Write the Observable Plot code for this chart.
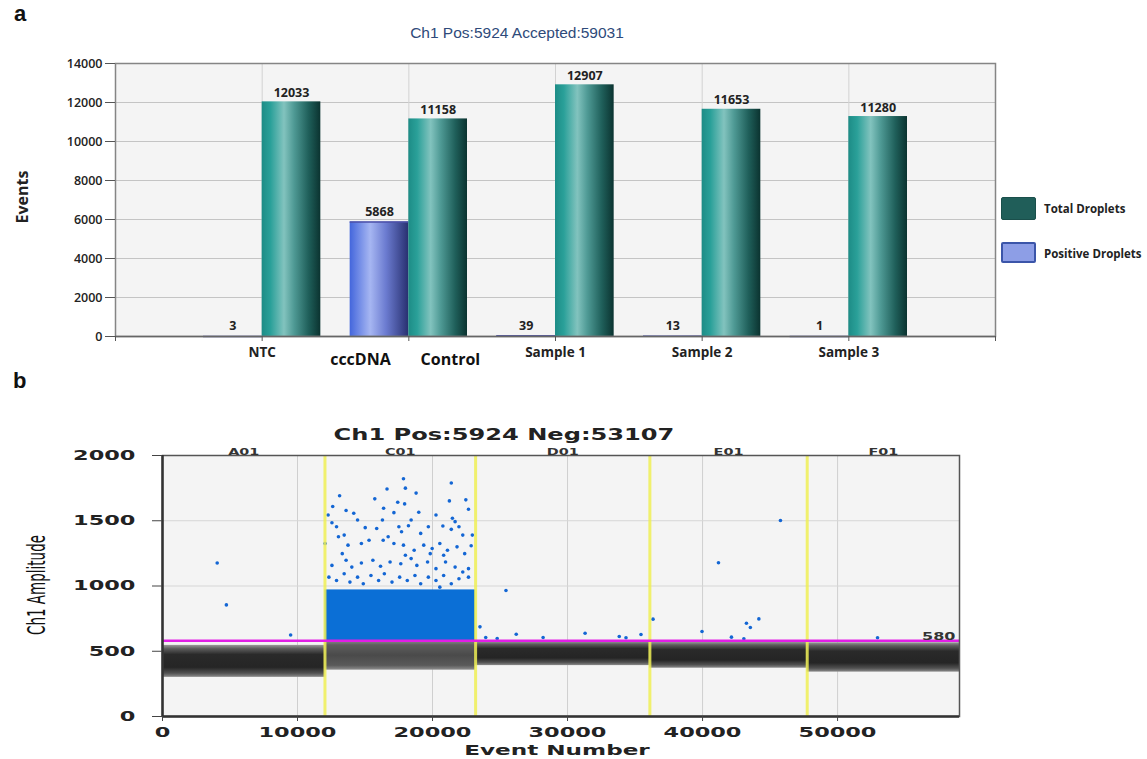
<!DOCTYPE html>
<html><head><meta charset="utf-8">
<script src="https://cdn.jsdelivr.net/npm/d3@7"></script>
<script src="https://cdn.jsdelivr.net/npm/@observablehq/plot@0.6"></script>
<style>
body{margin:0;background:#fff;}
#wrap{position:relative;width:1147px;height:759px;overflow:hidden;font-family:"Open Sans",sans-serif;}
.abs{position:absolute;white-space:nowrap;}
#pa g[aria-label="x-axis tick label"] text{font-weight:bold;font-size:13.5px;}
#pa g[aria-label="y-axis tick label"] text{font-weight:600;}
</style></head><body>
<div id="wrap">
  <div id="pa" class="abs" style="left:0;top:0"></div>
  <div id="pb" class="abs" style="left:0;top:380px"></div>
</div>
<script>
// ---------- Panel a data ----------
const categories = ["NTC", "Control", "Sample 1", "Sample 2", "Sample 3"];
const totalDroplets = [12033, 11158, 12907, 11653, 11280];
const positiveDroplets = [3, 5868, 39, 13, 1];
const xTickLabelsA = ["", "NTC", "", "Sample 1", "Sample 2", "Sample 3", ""];
const controlSubLabels = ["cccDNA", "Control"];
const yTicksA = [0, 2000, 4000, 6000, 8000, 10000, 12000, 14000];
const legendLabels = ["Total Droplets", "Positive Droplets"];

// ---------- Panel b data ----------
const wells = ["A01", "C01", "D01", "E01", "F01"];
const threshold = 580;
const bandOuterLow  = [300, 355, 390, 370, 340];
const bandOuterHigh = [545, 578, 572, 568, 565];
const clusterTop = [0, 970, 0, 0, 0];
const xTicksB = [0, 10000, 20000, 30000, 40000, 50000];
const yTicksB = [0, 500, 1000, 1500, 2000];
// positive droplets (event number, amplitude)
const posEvent = [17848,17990,16630,21390,18783,13117,15723,17423,22466,21248,16375,17933,12607,12267,13598,14165,17140,18981,20256,22664,21474,21672,18415,16290,12550,12890,14448,15015,13457,15865,17508,18216,19123,19690,20766,21390,21957,22240,22948,17706,16715,12040,13032,13740,14732,15298,16346,17140,17848,18641,19350,19973,20540,21106,21814,22863,22381,19831,13315,12550,13598,14023,14732,15582,16148,16856,17650,18415,18840,19633,20256,20964,21672,22664,20823,17990,12324,12890,13457,13882,14448,14873,15440,16006,16431,16998,17565,18131,18698,19123,19690,20256,20823,21390,21957,22664,22240,20540,
  4051,4731,9490,25440,23514,23940,24790,26200,28190,31300,33830,34330,35440,36330,39960,41180,42140,43060,43250,43540,44170,45770,52960];
const posAmp = [1822,1750,1743,1789,1712,1691,1668,1642,1660,1652,1596,1629,1609,1544,1578,1557,1562,1565,1544,1588,1519,1493,1506,1506,1485,1454,1506,1447,1390,1441,1454,1462,1403,1454,1460,1434,1454,1390,1390,1416,1377,1326,1377,1313,1326,1351,1351,1326,1313,1274,1313,1287,1326,1274,1300,1308,1248,1248,1248,1158,1197,1145,1176,1197,1151,1184,1171,1210,1158,1184,1133,1184,1145,1133,1236,1236,1068,1042,1094,1030,1068,1017,1081,1042,1094,1030,1068,1042,1081,1017,1068,1042,1081,1017,1055,1068,1107,991,
  1176,855,625,965,687,605,597,630,605,638,613,603,628,746,651,1178,608,595,715,682,748,1502,603];

// ---------- derived ----------
const totalPos = d3.sum(positiveDroplets);
const accepted = d3.sum(totalDroplets);
const rowsA = categories.map((c, i) => ({i: i + 1, cat: c, total: totalDroplets[i], pos: positiveDroplets[i]}));
const ends = d3.cumsum(totalDroplets);
const wellRows = wells.map((w, i) => ({
  well: w, start: i ? ends[i - 1] : 0, end: ends[i],
  oLo: bandOuterLow[i], oHi: bandOuterHigh[i], top: clusterTop[i]
}));
const boundaries = Array.from(ends).slice(0, -1);
const dots = posEvent.map((x, i) => ({x, y: posAmp[i]}));

const SVGNS = "http://www.w3.org/2000/svg";
function defsMark() {
  const d = document.createElementNS(SVGNS, "defs");
  d.innerHTML = `
  <linearGradient id="gTot" x1="0" x2="1" y1="0" y2="0">
    <stop offset="0" stop-color="#1d8c86"/>
    <stop offset="0.15" stop-color="#2aa099"/>
    <stop offset="0.38" stop-color="#82c3be"/>
    <stop offset="0.55" stop-color="#4f9a95"/>
    <stop offset="0.8" stop-color="#1f5f5a"/>
    <stop offset="1" stop-color="#0b3330"/>
  </linearGradient>
  <linearGradient id="gPos" x1="0" x2="1" y1="0" y2="0">
    <stop offset="0" stop-color="#4366dc"/>
    <stop offset="0.35" stop-color="#a6b6f2"/>
    <stop offset="0.62" stop-color="#6b7bd0"/>
    <stop offset="1" stop-color="#283070"/>
  </linearGradient>`;
  return d;
}
function defsMarkB() {
  const d = document.createElementNS(SVGNS, "defs");
  d.innerHTML = `
  <linearGradient id="gBand" x1="0" x2="0" y1="0" y2="1">
    <stop offset="0" stop-color="#9a9a9a"/>
    <stop offset="0.12" stop-color="#5c5c5c"/>
    <stop offset="0.3" stop-color="#2a2a2a"/>
    <stop offset="0.7" stop-color="#252525"/>
    <stop offset="0.88" stop-color="#505050"/>
    <stop offset="1" stop-color="#8a8a8a"/>
  </linearGradient>
  <linearGradient id="gBandC" x1="0" x2="0" y1="0" y2="1">
    <stop offset="0" stop-color="#8a8a8a"/>
    <stop offset="0.15" stop-color="#5e5e5e"/>
    <stop offset="0.5" stop-color="#4a4a4a"/>
    <stop offset="0.85" stop-color="#5a5a5a"/>
    <stop offset="1" stop-color="#8e8e8e"/>
  </linearGradient>`;
  return d;
}

// ---------- Panel a ----------
const plotA = Plot.plot({
  width: 1147, height: 380,
  marginLeft: 115, marginRight: 152, marginTop: 63, marginBottom: 44,
  x: {domain: [0, 6]},
  y: {domain: [0, 14000]},
  style: {fontFamily: "'Open Sans', sans-serif", fontSize: "12.5px", color: "#222", background: "transparent"},
  marks: [
    defsMark,
    Plot.frame({fill: "#f4f4f4"}),
    Plot.gridY(yTicksA, {stroke: "#c4c4c4", strokeOpacity: 1}),
    Plot.gridX(d3.range(1, 6), {stroke: "#d2d2d2", strokeOpacity: 1}),
    Plot.rect(rowsA, {x1: d => d.i - 0.4, x2: d => d.i, y1: d => 0, y2: "pos", fill: "url(#gPos)"}),
    Plot.ruleY(rowsA, {x1: d => d.i - 0.4, x2: d => d.i, y: "pos", stroke: "#4b4fa8", strokeWidth: 1.5}),
    Plot.rect(rowsA, {x1: d => d.i, x2: d => d.i + 0.4, y1: d => 0, y2: "total", fill: "url(#gTot)"}),
    Plot.text(rowsA, {x: d => d.i + 0.2, y: "total", text: d => String(d.total), lineAnchor: "bottom", dy: -5, fontWeight: "bold", fontSize: 12.5, fill: "#222"}),
    Plot.text(rowsA, {x: d => d.i - 0.2, y: "pos", text: d => String(d.pos), lineAnchor: "bottom", dy: -6, fontWeight: "bold", fontSize: 12.5, fill: "#222"}),
    Plot.frame({stroke: "#858585", strokeWidth: 1.5}),
    Plot.ruleY([0], {stroke: "#666", strokeWidth: 1.5}),
    Plot.axisY(yTicksA, {tickSize: 10, tickPadding: 3, label: null, tickFormat: d => String(d), stroke: "#555"}),
    Plot.axisX(d3.range(0, 7), {tickSize: 5, tickPadding: 6, label: null, tickFormat: i => xTickLabelsA[i], stroke: "#555"}),
    Plot.text([controlSubLabels[0]], {x: 2 - 0.33, frameAnchor: "bottom", lineAnchor: "middle", dy: 23, fontWeight: "bold", fontSize: 16, fill: "#111"}),
    Plot.text([controlSubLabels[1]], {x: 2 + 0.08, frameAnchor: "bottom", lineAnchor: "middle", textAnchor: "start", dy: 23, fontWeight: "bold", fontSize: 16, fill: "#111"})
  ]
});
document.getElementById("pa").appendChild(plotA);

// ---------- Panel b ----------
const plotB = Plot.plot({
  width: 1147, height: 379,
  marginLeft: 162, marginRight: 188, marginTop: 75, marginBottom: 43,
  x: {domain: [0, accepted]},
  y: {domain: [0, 2000]},
  style: {fontFamily: "'DejaVu Sans', sans-serif", fontSize: "14px", fontWeight: "bold", color: "#222", background: "transparent"},
  marks: [
    defsMarkB,
    Plot.frame({fill: "#f4f4f4"}),
    Plot.gridX(xTicksB.slice(1), {stroke: "#cfcfcf", strokeOpacity: 1}),
    Plot.gridY(yTicksB.slice(1, -1), {stroke: "#d6d6d6", strokeOpacity: 1}),
    Plot.rect(wellRows, {x1: "start", x2: "end", y1: "oLo", y2: "oHi", fill: d => d.well === "C01" ? "url(#gBandC)" : "url(#gBand)"}),
    Plot.rect(wellRows.filter(d => d.top > 0), {x1: "start", x2: "end", y1: d => threshold, y2: "top", fill: "#0b6fd6"}),
    Plot.dot(dots, {x: "x", y: "y", r: 1.8, fill: "#1366d4"}),
    Plot.ruleX(boundaries, {stroke: "#eeee55", strokeWidth: 3, strokeOpacity: 0.85}),
    Plot.ruleY([threshold], {stroke: "#e11ee6", strokeWidth: 2.5}),
    Plot.frame({stroke: "#555", strokeWidth: 1.5}),
    Plot.ruleX([0], {stroke: "#333", strokeWidth: 2.5}),
    Plot.ruleY([0], {stroke: "#333", strokeWidth: 2.5}),
    Plot.axisY(yTicksB, {tickSize: 10, tickPadding: 17, label: null, tickFormat: d => String(d), stroke: "#444"}),
    Plot.axisX(xTicksB, {tickSize: 5, tickPadding: 6, label: null, tickFormat: d => String(d), stroke: "#444"}),
    Plot.text(wellRows, {x: d => (d.start + d.end) / 2, text: "well", frameAnchor: "top", lineAnchor: "bottom", dy: -1, fontSize: 9, fill: "#333"}),
    Plot.text([String(threshold)], {frameAnchor: "right", y: d => threshold, textAnchor: "end", lineAnchor: "bottom", dx: -4, dy: -1, fontSize: 10, fill: "#333"})
  ]
});
document.getElementById("pb").appendChild(plotB);

// horizontally stretched lettering of panel b (scale about each label's anchor)
function stretch(svg, sx) {
  svg.querySelectorAll("text").forEach(t => {
    const b = t.getBBox();
    const anchor = getComputedStyle(t).textAnchor;
    const ax = anchor === "end" ? b.x + b.width : anchor === "middle" ? b.x + b.width / 2 : b.x;
    const tr = t.getAttribute("transform") || "";
    t.setAttribute("transform", `${tr} translate(${ax},0) scale(${sx},1) translate(${-ax},0)`);
  });
}
stretch(plotB, 1.6);

// ---------- HTML text ----------
const wrap = document.getElementById("wrap");
function add(txt, style) {
  const d = document.createElement("div");
  d.className = "abs";
  d.style.cssText = style;
  d.textContent = txt;
  wrap.appendChild(d);
  return d;
}
add("a", "left:14px;top:1px;font:bold 22px 'Liberation Sans',sans-serif;color:#111");
add("b", "left:13px;top:368px;font:bold 22px 'Liberation Sans',sans-serif;color:#111");
add(`Ch1 Pos:${totalPos} Accepted:${accepted}`, "left:517px;top:33px;transform:translate(-50%,-50%);font:15.5px 'Liberation Sans',sans-serif;color:#2e4a7a");
add("Events", "left:22px;top:197px;transform:translate(-50%,-50%) rotate(-90deg);font:bold 16px 'Open Sans',sans-serif;color:#222");
// legend
const legendFills = ["#205e59", "#8d9ee6"];
const legendStrokes = ["#1a4f4b", "#3b55a9"];
const legendTops = [197, 242];
legendLabels.forEach((l, i) => {
  add("", `left:1001px;top:${legendTops[i]}px;width:${i ? 31 : 33}px;height:${i ? 17 : 21}px;background:${legendFills[i]};border:${i ? 2 : 1}px solid ${legendStrokes[i]};border-radius:2px`);
  add(l, `left:1044px;top:${legendTops[i] + 11}px;transform:translateY(-50%);font:bold 11.5px 'Open Sans',sans-serif;color:#222`);
});
add(`Ch1 Pos:${totalPos} Neg:${accepted - totalPos}`, "left:504px;top:434px;transform:translate(-50%,-50%) scaleX(1.46);font:bold 16.5px 'DejaVu Sans',sans-serif;color:#222");
add("Event Number", "left:557px;top:750px;transform:translate(-50%,-50%) scaleX(1.65);font:bold 14px 'DejaVu Sans',sans-serif;color:#222");
add("Ch1 Amplitude", "left:37px;top:585px;transform:translate(-50%,-50%) scaleX(1.6) rotate(-90deg);font:15px 'Liberation Sans Narrow','DejaVu Sans Condensed',sans-serif;color:#111");
</script>
</body></html>
